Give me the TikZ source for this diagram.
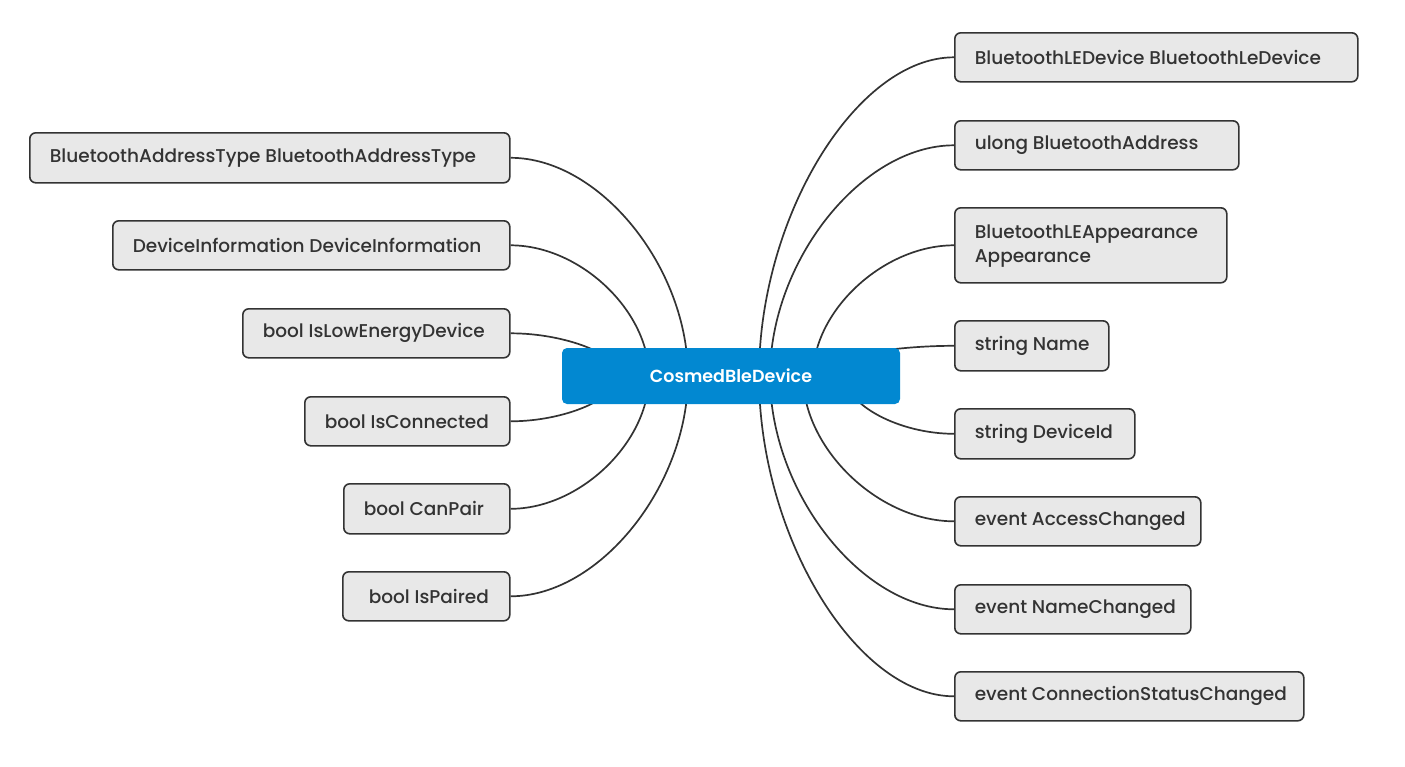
\documentclass[tikz,border=0pt]{standalone}
\usepackage{fontspec}
\setmainfont{Poppins}[UprightFont=* Medium, BoldFont=* SemiBold]
\usetikzlibrary{calc}
\definecolor{linec}{HTML}{333333}
\definecolor{boxc}{HTML}{E8E8E8}
\definecolor{textc}{HTML}{333333}
\definecolor{mainc}{HTML}{0288D1}
\newcommand\boxtxt[2]{\makebox[#1][l]{#2}}
\newcommand\linkto[2]{\draw[conn] (#1) .. controls ($(#1)!0.5!(#1 -| #2)$) and ($(#2)!0.5!(#2 |- #1)$) .. (#2);}
\begin{document}
\begin{tikzpicture}[x=1pt,y=-1pt,
  leaf/.style={draw=linec, fill=boxc, line width=1.6pt, rounded corners=6pt,
    text=textc, font=\fontsize{18.5}{25}\selectfont, inner xsep=20pt, inner ysep=0pt,
    anchor=north west},
  mainbox/.style={fill=mainc, rounded corners=5pt, text=white,
    font=\fontsize{17.5}{20}\selectfont\bfseries, minimum width=338pt, minimum height=56pt,
    inner sep=0pt},
  conn/.style={draw=linec, line width=1.7pt}]
\useasboundingbox (0,0) rectangle (1405,766);

% right side
\node[leaf, minimum width=403pt, minimum height=49pt] (r1) at (954,32) {\boxtxt{363pt}{BluetoothLEDevice BluetoothLeDevice}};
\node[leaf, minimum width=284pt, minimum height=49pt] (r2) at (954,120) {\boxtxt{244pt}{ulong BluetoothAddress}};
\node[leaf, minimum width=272pt, minimum height=75pt] (r3) at (954,207) {\boxtxt{232pt}{\begin{tabular}{@{}l@{}}BluetoothLEAppearance\\[-1pt]Appearance\end{tabular}}};
\node[leaf, minimum width=154pt, minimum height=50pt] (r4) at (954,320) {\boxtxt{114pt}{string Name}};
\node[leaf, minimum width=180pt, minimum height=50pt] (r5) at (954,408) {\boxtxt{140pt}{string DeviceId}};
\node[leaf, minimum width=246pt, minimum height=49pt] (r6) at (954,496) {\boxtxt{206pt}{event AccessChanged}};
\node[leaf, minimum width=236pt, minimum height=49pt] (r7) at (954,584) {\boxtxt{196pt}{event NameChanged}};
\node[leaf, minimum width=349pt, minimum height=49pt] (r8) at (954,671) {\boxtxt{309pt}{event ConnectionStatusChanged}};

% left side
\node[leaf, minimum width=480pt, minimum height=50pt] (l1) at (29,132) {\boxtxt{440pt}{BluetoothAddressType BluetoothAddressType}};
\node[leaf, minimum width=397pt, minimum height=49pt] (l2) at (112,220) {\boxtxt{357pt}{DeviceInformation DeviceInformation}};
\node[leaf, minimum width=267pt, minimum height=49pt] (l3) at (242,308) {\boxtxt{227pt}{bool IsLowEnergyDevice}};
\node[leaf, minimum width=205pt, minimum height=49pt] (l4) at (304,396) {\boxtxt{165pt}{bool IsConnected}};
\node[leaf, minimum width=166pt, minimum height=50pt] (l5) at (343,483) {\boxtxt{126pt}{bool CanPair}};
\node[leaf, minimum width=167pt, minimum height=49pt] (l6) at (342,571) {\boxtxt{127pt}{\hspace*{6pt}bool IsPaired}};

% curve ends (hidden under the central box)
\coordinate (eL1) at (688,376);
\coordinate (eL2) at (649,376);
\coordinate (eL3) at (620,376);
\coordinate (eL4) at (618,376);
\coordinate (eL5) at (649,376);
\coordinate (eL6) at (688,376);
\coordinate (eR1) at (759,376);
\coordinate (eR2) at (770,376);
\coordinate (eR3) at (813,376);
\coordinate (eR4) at (810,376);
\coordinate (eR5) at (845,376);
\coordinate (eR6) at (803,376);
\coordinate (eR7) at (770,376);
\coordinate (eR8) at (759,376);

\linkto{l1.east}{eL1}
\linkto{l2.east}{eL2}
\linkto{l3.east}{eL3}
\linkto{l4.east}{eL4}
\linkto{l5.east}{eL5}
\linkto{l6.east}{eL6}
\linkto{r1.west}{eR1}
\linkto{r2.west}{eR2}
\linkto{r3.west}{eR3}
\linkto{r4.west}{eR4}
\linkto{r5.west}{eR5}
\linkto{r6.west}{eR6}
\linkto{r7.west}{eR7}
\linkto{r8.west}{eR8}

\node[mainbox] (main) at (731,376) {CosmedBleDevice};
\end{tikzpicture}
\end{document}
